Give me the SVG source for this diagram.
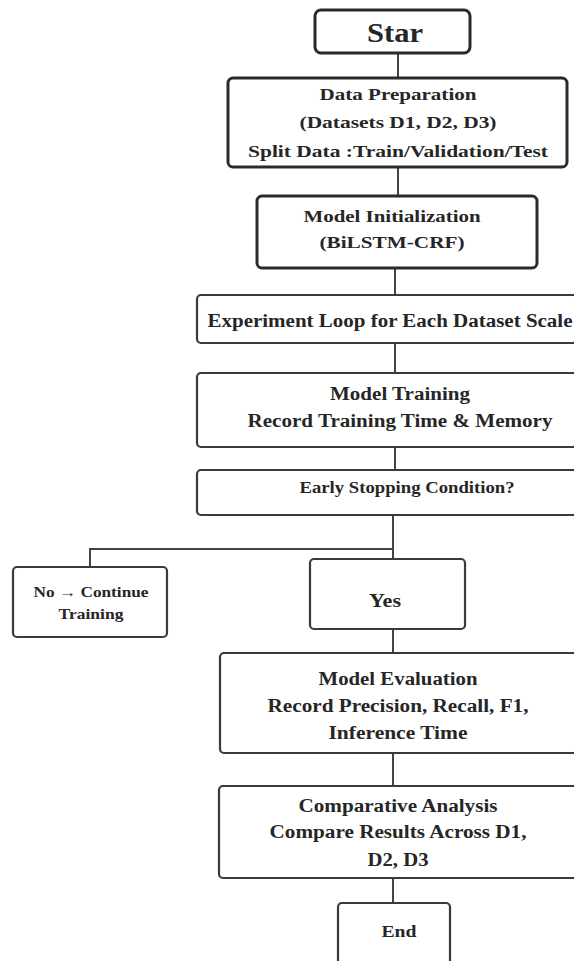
<svg xmlns="http://www.w3.org/2000/svg" width="574" height="961" viewBox="0 0 574 961">
<style>
.box{fill:#fff;stroke:#3a3a3a;stroke-width:2.2}
.thick{stroke:#2a2a2a;stroke-width:3}
.t{font-family:"Liberation Serif","Times New Roman",serif;font-weight:bold;fill:#262626;text-anchor:middle}
.c{fill:none;stroke:#444;stroke-width:2}
</style>
<rect width="574" height="961" fill="#fff"/>
<g id="connectors">
<line class="c" x1="398" y1="53" x2="398" y2="78"/>
<line class="c" x1="398" y1="167" x2="398" y2="196"/>
<line class="c" x1="395" y1="268" x2="395" y2="295"/>
<line class="c" x1="395" y1="343" x2="395" y2="373"/>
<line class="c" x1="395" y1="447" x2="395" y2="470"/>
<line class="c" x1="393" y1="515" x2="393" y2="559"/>
<polyline class="c" points="393,549 90,549 90,567"/>
<line class="c" x1="393" y1="629" x2="393" y2="653"/>
<line class="c" x1="393" y1="753" x2="393" y2="786"/>
<line class="c" x1="393" y1="878" x2="393" y2="903"/>
</g>
<g id="start">
<rect class="box thick" x="315" y="10" width="155" height="43" rx="6"/>
<text class="t" x="395" y="42" font-size="27" textLength="56" lengthAdjust="spacingAndGlyphs">Star</text>
</g>
<g id="data-preparation">
<rect class="box thick" x="228" y="78" width="339" height="89" rx="5"/>
<text class="t" x="398" y="100" font-size="17" textLength="157" lengthAdjust="spacingAndGlyphs">Data Preparation</text>
<text class="t" x="398" y="128" font-size="17" textLength="197" lengthAdjust="spacingAndGlyphs">(Datasets D1, D2, D3)</text>
<text class="t" x="398" y="157" font-size="17" textLength="300" lengthAdjust="spacingAndGlyphs">Split Data :Train/Validation/Test</text>
</g>
<g id="model-initialization">
<rect class="box thick" x="257" y="196" width="280" height="72" rx="5"/>
<text class="t" x="392" y="222" font-size="17" textLength="177" lengthAdjust="spacingAndGlyphs">Model Initialization</text>
<text class="t" x="392" y="248" font-size="17" textLength="145" lengthAdjust="spacingAndGlyphs">(BiLSTM-CRF)</text>
</g>
<g id="experiment-loop">
<rect class="box" x="197" y="295" width="380" height="48" rx="4"/>
<text class="t" x="390" y="327" font-size="18" textLength="365" lengthAdjust="spacingAndGlyphs">Experiment Loop for Each Dataset Scale</text>
</g>
<g id="model-training">
<rect class="box" x="197" y="373" width="380" height="74" rx="4"/>
<text class="t" x="400" y="400" font-size="18" textLength="140" lengthAdjust="spacingAndGlyphs">Model Training</text>
<text class="t" x="400" y="427" font-size="18" textLength="305" lengthAdjust="spacingAndGlyphs">Record Training Time &amp; Memory</text>
</g>
<g id="early-stopping">
<rect class="box" x="197" y="470" width="380" height="45" rx="4"/>
<text class="t" x="407" y="493" font-size="16" textLength="215" lengthAdjust="spacingAndGlyphs">Early Stopping Condition?</text>
</g>
<g id="no-continue">
<rect class="box" x="13" y="567" width="154" height="70" rx="4"/>
<text class="t" x="91" y="597" font-size="14" textLength="115" lengthAdjust="spacingAndGlyphs">No → Continue</text>
<text class="t" x="91" y="619" font-size="14" textLength="65" lengthAdjust="spacingAndGlyphs">Training</text>
</g>
<g id="yes">
<rect class="box" x="310" y="559" width="155" height="70" rx="4"/>
<text class="t" x="385" y="607" font-size="18" textLength="32" lengthAdjust="spacingAndGlyphs">Yes</text>
</g>
<g id="model-evaluation">
<rect class="box" x="220" y="653" width="357" height="100" rx="4"/>
<text class="t" x="398" y="685" font-size="18" textLength="159" lengthAdjust="spacingAndGlyphs">Model Evaluation</text>
<text class="t" x="398" y="712" font-size="18" textLength="261" lengthAdjust="spacingAndGlyphs">Record Precision, Recall, F1,</text>
<text class="t" x="398" y="739" font-size="18" textLength="139" lengthAdjust="spacingAndGlyphs">Inference Time</text>
</g>
<g id="comparative-analysis">
<rect class="box" x="219" y="786" width="358" height="92" rx="4"/>
<text class="t" x="398" y="812" font-size="18" textLength="199" lengthAdjust="spacingAndGlyphs">Comparative Analysis</text>
<text class="t" x="398" y="838" font-size="18" textLength="257" lengthAdjust="spacingAndGlyphs">Compare Results Across D1,</text>
<text class="t" x="398" y="866" font-size="18" textLength="61" lengthAdjust="spacingAndGlyphs">D2, D3</text>
</g>
<g id="end">
<rect class="box" x="338" y="903" width="112" height="64" rx="4"/>
<text class="t" x="399" y="937" font-size="17" textLength="35" lengthAdjust="spacingAndGlyphs">End</text>
</g>
</svg>
